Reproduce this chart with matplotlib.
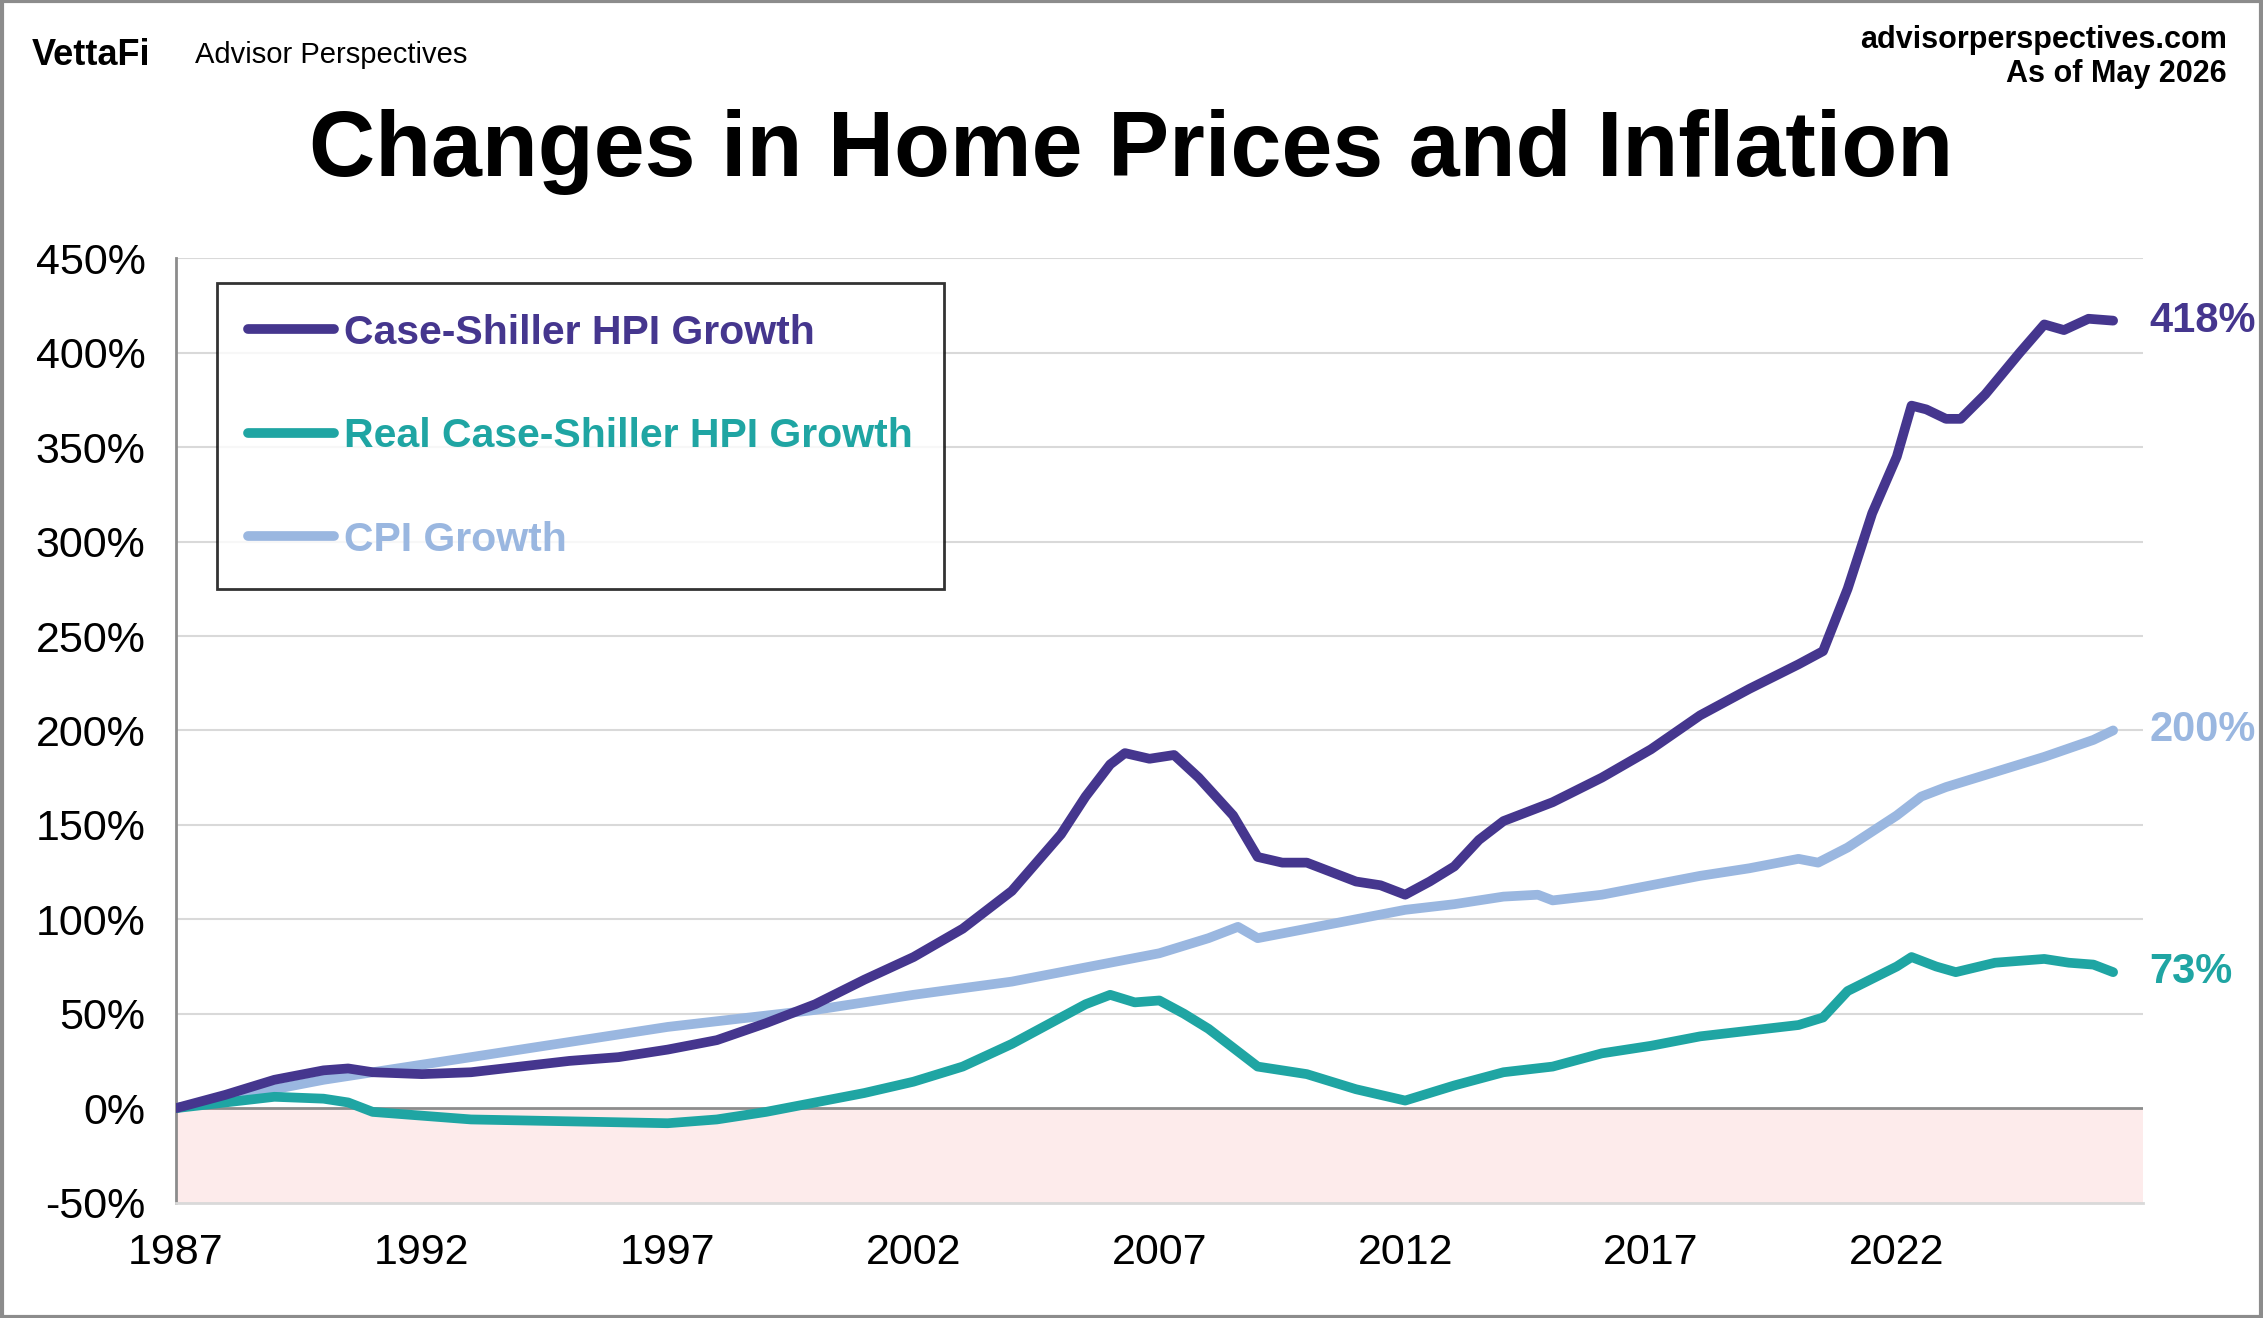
import matplotlib
matplotlib.use("Agg")
import matplotlib.pyplot as plt
import numpy as np

plt.rcParams['font.family'] = ['Liberation Sans', 'DejaVu Sans']

hpi_x = [1987,1988,1989,1990,1990.5,1991,1992,1993,1994,1995,1996,1997,1998,1999,2000,2001,2002,2003,2004,2005,2005.5,2006,2006.3,2006.8,2007.3,2007.8,2008.5,2009,2009.5,2010,2010.5,2011,2011.5,2012,2012.5,2013,2013.5,2014,2015,2016,2017,2018,2019,2020,2020.5,2021,2021.5,2022,2022.3,2022.6,2023,2023.3,2023.8,2024.5,2025,2025.4,2025.9,2026.4]
hpi_y = [0,7,15,20,21,19,18,19,22,25,27,31,36,45,55,68,80,95,115,145,165,182,188,185,187,175,155,133,130,130,125,120,118,113,120,128,142,152,162,175,190,208,222,235,242,275,315,345,372,370,365,365,378,400,415,412,418,417]

cpi_x = [1987,1990,1992,1995,1997,2000,2002,2004,2006,2007,2008,2008.6,2009,2010,2011,2012,2013,2014,2014.7,2015,2016,2017,2018,2019,2020,2020.4,2021,2022,2022.5,2023,2024,2025,2026,2026.4]
cpi_y = [0,15,23,35,43,52,60,67,77,82,90,96,90,95,100,105,108,112,113,110,113,118,123,127,132,130,138,155,165,170,178,186,195,200]

real_x = [1987,1989,1990,1990.5,1991,1992,1993,1995,1997,1998,1999,2000,2001,2002,2003,2004,2005,2005.5,2006,2006.5,2007,2007.5,2008,2008.5,2009,2010,2011,2012,2012.5,2013,2014,2015,2016,2017,2018,2019,2020,2020.5,2021,2022,2022.3,2022.8,2023.2,2024,2025,2025.5,2026,2026.4]
real_y = [0,6,5,3,-2,-4,-6,-7,-8,-6,-2,3,8,14,22,34,48,55,60,56,57,50,42,32,22,18,10,4,8,12,19,22,29,33,38,41,44,48,62,75,80,75,72,77,79,77,76,72]

series_labels = ["Case-Shiller HPI Growth", "Real Case-Shiller HPI Growth", "CPI Growth"]
end_labels = ["418%", "73%", "200%"]
yticks = list(range(-50, 451, 50))
xticks = list(range(1987, 2026, 5))

c_hpi, c_real, c_cpi = "#45368E", "#1FA5A3", "#9AB7E0"

fig = plt.figure(figsize=(22.63, 13.18), dpi=100)
ax = fig.add_axes([0.0778, 0.0876, 0.869, 0.7164])
ax.set_xlim(1987, 2027)
ax.set_ylim(-50, 450)
ax.axhspan(-50, 0, color="#FDEBEB", zorder=0)
for t in yticks[2:]:
    ax.axhline(t, color="#D9D9D9", lw=1.5, zorder=1)
ax.axhline(0, color="#8C8C8C", lw=2, zorder=2)
l1, = ax.plot(hpi_x, hpi_y, color=c_hpi, lw=7, zorder=5, solid_capstyle='round')
l2, = ax.plot(real_x, real_y, color=c_real, lw=7, zorder=4, solid_capstyle='round')
l3, = ax.plot(cpi_x, cpi_y, color=c_cpi, lw=7, zorder=3, solid_capstyle='round')

for s in ['top', 'right']:
    ax.spines[s].set_visible(False)
ax.spines['left'].set_color("#8C8C8C"); ax.spines['left'].set_linewidth(2)
ax.spines['bottom'].set_color("#D9D9D9"); ax.spines['bottom'].set_linewidth(2)
ax.set_yticks(yticks)
ax.set_yticklabels([f"{t}%" for t in yticks], fontsize=31)
ax.set_xticks(xticks)
ax.set_xticklabels([str(t) for t in xticks], fontsize=31)
ax.tick_params(axis='y', length=0, pad=22)
ax.tick_params(axis='x', length=0, pad=22)

leg = ax.legend([l1, l2, l3], series_labels, loc='upper left', bbox_to_anchor=(0.0085, 1.0),
                frameon=True, fancybox=False, edgecolor='black',
                handlelength=2.1, labelspacing=1.6, borderpad=0.75, handletextpad=0.25,
                borderaxespad=0.6, prop={'weight': 'bold', 'size': 29.5})
leg.get_frame().set_linewidth(2)
for txt, c in zip(leg.get_texts(), [c_hpi, c_real, c_cpi]):
    txt.set_color(c)

for y, lab, c in [(hpi_y[-1], end_labels[0], c_hpi), (real_y[-1], end_labels[1], c_real), (cpi_y[-1], end_labels[2], c_cpi)]:
    ax.annotate(lab, xy=(2026.4, y), xytext=(26, 0), textcoords='offset points',
                va='center', ha='left', fontsize=30, fontweight='bold', color=c, annotation_clip=False)

fig.text(0.5, 0.885, "Changes in Home Prices and Inflation", ha='center', va='center', fontsize=66, fontweight='bold')
fig.text(0.014, 0.958, "VettaFi", ha='left', va='center', fontsize=26, fontweight='bold')
fig.text(0.086, 0.958, "Advisor Perspectives", ha='left', va='center', fontsize=21)
fig.text(0.984, 0.970, "advisorperspectives.com", ha='right', va='center', fontsize=22, fontweight='bold')
fig.text(0.984, 0.944, "As of May 2026", ha='right', va='center', fontsize=22, fontweight='bold')
fig.patches.append(plt.Rectangle((0.001, 0.001), 0.998, 0.998, transform=fig.transFigure,
                                 fill=False, edgecolor="#8C8C8C", lw=3))
fig.savefig("out.png", dpi=100)
